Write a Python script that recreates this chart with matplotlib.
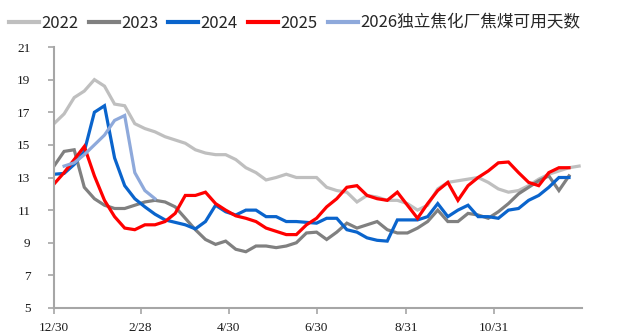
import numpy as np
import matplotlib.pyplot as plt

# weekly coke-plant coking coal days of supply, week 0 = 12/30
y2022 = [16.3, 16.9, 17.9, 18.3, 19.0, 18.6, 17.5, 17.4, 16.3, 16.0,
         15.8, 15.5, 15.3, 15.1, 14.7, 14.5, 14.4, 14.4, 14.1, 13.6,
         13.3, 12.85, 13.0, 13.2, 13.0, 13.0, 13.0, 12.4, 12.2, 12.1,
         11.5, 11.9, 11.8, 11.6, 11.6, 11.4, 11.0, 11.3, 12.3, 12.7,
         12.8, 12.9, 13.0, 12.7, 12.3, 12.1, 12.2, 12.5, 12.9, 13.2,
         13.4, 13.6, 13.7]
y2023 = [13.7, 14.6, 14.7, 12.4, 11.7, 11.3, 11.1, 11.1, 11.3, 11.5,
         11.6, 11.5, 11.2, 10.5, 9.8, 9.2, 8.9, 9.1, 8.6, 8.45,
         8.8, 8.8, 8.7, 8.8, 9.0, 9.6, 9.65, 9.2, 9.65, 10.2,
         9.9, 10.1, 10.3, 9.8, 9.6, 9.6, 9.9, 10.3, 11.0, 10.3,
         10.3, 10.8, 10.7, 10.5, 10.9, 11.4, 12.0, 12.4, 12.8, 13.1,
         12.2, 13.1]
y2024 = [13.2, 13.25, 13.8, 14.6, 17.0, 17.4, 14.2, 12.5, 11.7, 11.2,
         10.75, 10.4, 10.25, 10.1, 9.85, 10.3, 11.3, 10.9, 10.7, 11.0,
         11.0, 10.6, 10.6, 10.3, 10.3, 10.25, 10.2, 10.5, 10.5, 9.8,
         9.65, 9.3, 9.15, 9.1, 10.4, 10.4, 10.4, 10.6, 11.4, 10.6,
         11.0, 11.3, 10.6, 10.6, 10.5, 11.0, 11.1, 11.6, 11.9, 12.4,
         13.0, 13.0]
y2025 = [12.6, 13.3, 14.1, 14.9, 13.1, 11.6, 10.6, 9.9, 9.8, 10.1,
         10.1, 10.3, 10.8, 11.9, 11.9, 12.1, 11.4, 11.0, 10.65, 10.5,
         10.3, 9.9, 9.7, 9.5, 9.5, 10.1, 10.5, 11.2, 11.7, 12.4,
         12.5, 11.9, 11.7, 11.6, 12.1, 11.3, 10.5, 11.4, 12.2, 12.7,
         11.6, 12.5, 13.0, 13.4, 13.9, 13.95, 13.3, 12.7, 12.5, 13.3,
         13.6, 13.6]
# 2026 starts one week later
y2026 = [13.7, 13.9, 14.4, 15.0, 15.6, 16.5, 16.8, 13.3, 12.2, 11.7]
start2026 = 1

tick_days = [0, 60, 121, 182, 244, 305]
tick_labels = ['12/30', '2/28', '4/30', '6/30', '8/31', '10/31']

series = [
    ('2022', y2022, 0, '#BFBFBF'),
    ('2023', y2023, 0, '#808080'),
    ('2024', y2024, 0, '#0A64CC'),
    ('2025', y2025, 0, '#FF0000'),
    ('2026独立焦化厂焦煤可用天数', y2026, start2026, '#8EA9DB'),
]

W, H = 617, 333
fig = plt.figure(figsize=(W / 100, H / 100), dpi=100)
ax = fig.add_axes([54 / W, 1 - 308 / H, (582 - 54) / W, (308 - 47) / H])

for label, vals, start, color in series:
    days = 7 * (np.arange(len(vals)) + start)
    ax.plot(days, vals, color=color, lw=2.3, label=label, solid_joinstyle='miter')

ax.set_xlim(0, 366)
ax.set_ylim(5, 21)
ax.set_yticks(np.arange(5, 22, 2))
ax.set_xticks(tick_days)
ax.set_xticklabels(tick_labels)

for s in ['top', 'right']:
    ax.spines[s].set_visible(False)
for s in ['left', 'bottom']:
    ax.spines[s].set_color('#A6A6A6')
    ax.spines[s].set_linewidth(1.5)

ax.tick_params(axis='both', direction='out', length=4, width=1.2, color='#A6A6A6',
               labelsize=9.5, labelcolor='#1a1a1a')
ax.tick_params(axis='y', pad=13)
ax.tick_params(axis='x', pad=6)
for t in ax.get_xticklabels() + ax.get_yticklabels():
    t.set_family('Liberation Serif')

leg = fig.legend(loc='center left', bbox_to_anchor=(9 / W, 1 - 23 / H), ncol=5,
                 frameon=False, borderpad=0, borderaxespad=0,
                 handlelength=1.8, handletextpad=0.15, columnspacing=0.6,
                 prop={'family': ['Liberation Sans Narrow', 'Noto Sans CJK SC'], 'size': 12})
for line in leg.get_lines():
    line.set_linewidth(3)
for t in leg.get_texts():
    t.set_color('#262626')

fig.savefig('out.png', dpi=100)
